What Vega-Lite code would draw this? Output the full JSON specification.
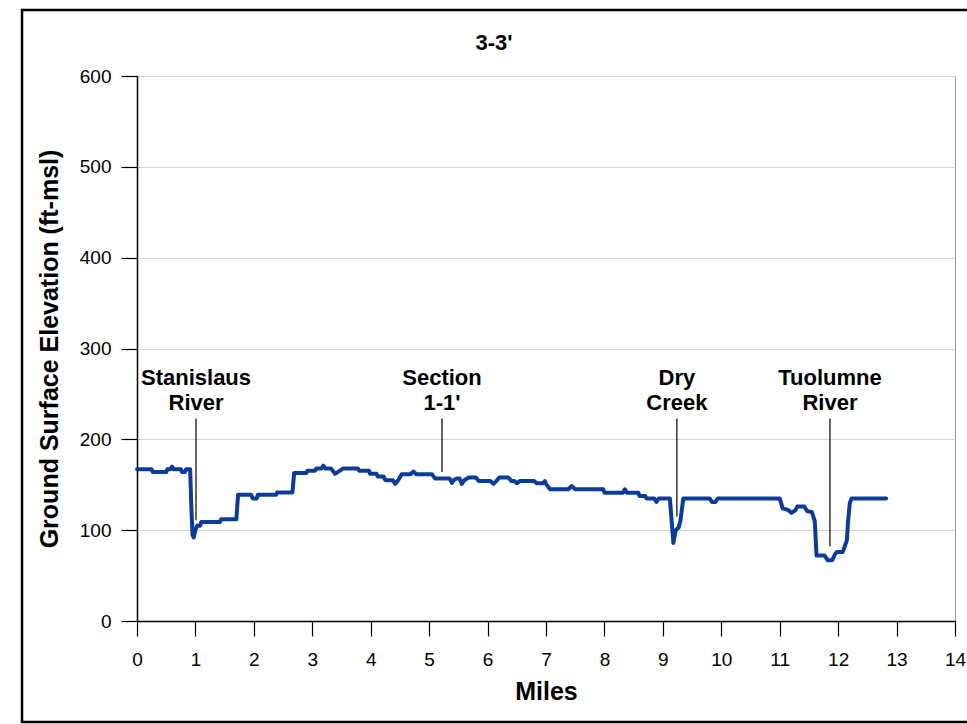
{
  "$schema": "https://vega.github.io/schema/vega-lite/v6.json",
  "width": 818,
  "height": 545,
  "autosize": {"type": "none"},
  "padding": {"left": 137, "top": 76, "right": 12, "bottom": 103},
  "background": "white",
  "title": {
    "text": "3-3'",
    "anchor": "middle",
    "frame": "group",
    "dx": -52,
    "dy": 46,
    "offset": 0,
    "fontSize": 22,
    "font": "Liberation Sans",
    "fontWeight": "bold",
    "color": "black"
  },
  "config": {
    "font": "Liberation Sans",
    "view": {"stroke": "#9a9a9a", "strokeWidth": 1}
  },
  "datasets": {
    "profile": [
      {"mile": 0, "elev": 167}, {"mile": 0.25, "elev": 167}, {"mile": 0.27, "elev": 164}, {"mile": 0.5, "elev": 164},
      {"mile": 0.52, "elev": 167}, {"mile": 0.57, "elev": 167}, {"mile": 0.6, "elev": 170}, {"mile": 0.63, "elev": 167},
      {"mile": 0.75, "elev": 167}, {"mile": 0.77, "elev": 164}, {"mile": 0.82, "elev": 164}, {"mile": 0.84, "elev": 167},
      {"mile": 0.91, "elev": 167}, {"mile": 0.93, "elev": 125}, {"mile": 0.95, "elev": 95}, {"mile": 0.97, "elev": 92},
      {"mile": 1.0, "elev": 100}, {"mile": 1.03, "elev": 105}, {"mile": 1.08, "elev": 105}, {"mile": 1.1, "elev": 109},
      {"mile": 1.42, "elev": 109}, {"mile": 1.44, "elev": 112}, {"mile": 1.7, "elev": 112}, {"mile": 1.73, "elev": 139},
      {"mile": 1.95, "elev": 139}, {"mile": 1.98, "elev": 135}, {"mile": 2.05, "elev": 135}, {"mile": 2.07, "elev": 139},
      {"mile": 2.38, "elev": 139}, {"mile": 2.4, "elev": 141.5}, {"mile": 2.66, "elev": 141.5}, {"mile": 2.69, "elev": 163},
      {"mile": 2.9, "elev": 163}, {"mile": 2.92, "elev": 165.5}, {"mile": 3.05, "elev": 165.5}, {"mile": 3.07, "elev": 168},
      {"mile": 3.16, "elev": 168}, {"mile": 3.19, "elev": 171}, {"mile": 3.22, "elev": 168}, {"mile": 3.32, "elev": 168},
      {"mile": 3.39, "elev": 162}, {"mile": 3.46, "elev": 165}, {"mile": 3.53, "elev": 168}, {"mile": 3.78, "elev": 168},
      {"mile": 3.8, "elev": 165.5}, {"mile": 3.97, "elev": 165.5}, {"mile": 3.99, "elev": 162}, {"mile": 4.1, "elev": 162},
      {"mile": 4.12, "elev": 159}, {"mile": 4.22, "elev": 159}, {"mile": 4.25, "elev": 155}, {"mile": 4.38, "elev": 155},
      {"mile": 4.42, "elev": 151}, {"mile": 4.47, "elev": 155}, {"mile": 4.53, "elev": 161.5}, {"mile": 4.68, "elev": 161.5},
      {"mile": 4.73, "elev": 164.5}, {"mile": 4.78, "elev": 161.5}, {"mile": 5.05, "elev": 161.5}, {"mile": 5.1, "elev": 157},
      {"mile": 5.35, "elev": 157}, {"mile": 5.39, "elev": 152}, {"mile": 5.42, "elev": 155}, {"mile": 5.47, "elev": 157},
      {"mile": 5.52, "elev": 157}, {"mile": 5.56, "elev": 151}, {"mile": 5.6, "elev": 155}, {"mile": 5.68, "elev": 158},
      {"mile": 5.8, "elev": 158}, {"mile": 5.85, "elev": 154}, {"mile": 6.05, "elev": 154}, {"mile": 6.1, "elev": 151},
      {"mile": 6.15, "elev": 154}, {"mile": 6.2, "elev": 158}, {"mile": 6.35, "elev": 158}, {"mile": 6.41, "elev": 154},
      {"mile": 6.46, "elev": 154}, {"mile": 6.5, "elev": 151.6}, {"mile": 6.55, "elev": 154}, {"mile": 6.8, "elev": 154},
      {"mile": 6.84, "elev": 151.6}, {"mile": 6.95, "elev": 151.6}, {"mile": 6.98, "elev": 154}, {"mile": 7.0, "elev": 151},
      {"mile": 7.07, "elev": 145}, {"mile": 7.38, "elev": 145}, {"mile": 7.44, "elev": 148.6}, {"mile": 7.5, "elev": 145},
      {"mile": 7.98, "elev": 145}, {"mile": 8.0, "elev": 141.3}, {"mile": 8.32, "elev": 141.3}, {"mile": 8.35, "elev": 145},
      {"mile": 8.38, "elev": 141.3}, {"mile": 8.58, "elev": 141.3}, {"mile": 8.6, "elev": 137.6}, {"mile": 8.7, "elev": 137.6},
      {"mile": 8.72, "elev": 135}, {"mile": 8.85, "elev": 135}, {"mile": 8.89, "elev": 131}, {"mile": 8.93, "elev": 135},
      {"mile": 9.12, "elev": 135}, {"mile": 9.15, "elev": 110}, {"mile": 9.18, "elev": 86}, {"mile": 9.22, "elev": 100},
      {"mile": 9.27, "elev": 103}, {"mile": 9.3, "elev": 110}, {"mile": 9.35, "elev": 135}, {"mile": 9.8, "elev": 135},
      {"mile": 9.84, "elev": 131}, {"mile": 9.9, "elev": 131}, {"mile": 9.94, "elev": 135}, {"mile": 11.0, "elev": 135},
      {"mile": 11.05, "elev": 124}, {"mile": 11.15, "elev": 122}, {"mile": 11.2, "elev": 119}, {"mile": 11.27, "elev": 122},
      {"mile": 11.3, "elev": 126}, {"mile": 11.42, "elev": 126}, {"mile": 11.47, "elev": 121}, {"mile": 11.55, "elev": 120},
      {"mile": 11.6, "elev": 110}, {"mile": 11.63, "elev": 72}, {"mile": 11.77, "elev": 72}, {"mile": 11.82, "elev": 67},
      {"mile": 11.9, "elev": 67}, {"mile": 11.95, "elev": 74}, {"mile": 11.98, "elev": 76}, {"mile": 12.08, "elev": 76},
      {"mile": 12.15, "elev": 89}, {"mile": 12.17, "elev": 110}, {"mile": 12.2, "elev": 130}, {"mile": 12.23, "elev": 135},
      {"mile": 12.82, "elev": 135}
    ],
    "labels": [
      {"label": "Stanislaus\nRiver", "mile": 1.01, "top": 223, "bottom": 111, "texty": 267},
      {"label": "Section\n1-1'", "mile": 5.22, "top": 223, "bottom": 164, "texty": 267},
      {"label": "Dry\nCreek", "mile": 9.24, "top": 223, "bottom": 115, "texty": 267},
      {"label": "Tuolumne\nRiver", "mile": 11.86, "top": 223, "bottom": 82, "texty": 267}
    ]
  },
  "layer": [
    {
      "data": {"values": [{}]},
      "mark": {"type": "rect", "fill": "transparent", "stroke": "black", "strokeWidth": 2.5, "clip": false},
      "encoding": {
        "x": {"datum": -1.968, "type": "quantitative", "scale": {"domain": [0, 14], "nice": false, "zero": false}},
        "x2": {"datum": 14.6},
        "y": {"datum": 672.7, "type": "quantitative", "scale": {"domain": [0, 600], "nice": false}},
        "y2": {"datum": -111.2}
      }
    },
    {
      "data": {"name": "profile"},
      "mark": {"type": "line", "color": "#0b3c9a", "strokeWidth": 4, "strokeJoin": "round", "strokeCap": "round"},
      "encoding": {
        "x": {
          "field": "mile", "type": "quantitative",
          "scale": {"domain": [0, 14], "nice": false, "zero": false},
          "axis": {
            "title": "Miles", "values": [0,1,2,3,4,5,6,7,8,9,10,11,12,13,14], "format": "d",
            "grid": false, "domainColor": "black", "domainWidth": 1.5,
            "tickColor": "black", "tickSize": 15, "tickWidth": 1.2,
            "labelFontSize": 19, "labelColor": "black", "labelPadding": 14, "labelFlush": false,
            "titleFontSize": 25, "titleFontWeight": "bold", "titleColor": "black", "titlePadding": 10
          }
        },
        "y": {
          "field": "elev", "type": "quantitative",
          "scale": {"domain": [0, 600], "nice": false},
          "axis": {
            "title": "Ground Surface Elevation (ft-msl)", "values": [0,100,200,300,400,500,600], "format": "d",
            "grid": true, "gridColor": "#d4d4d4", "gridWidth": 1.2,
            "domainColor": "black", "domainWidth": 1.5,
            "tickColor": "black", "tickSize": 16, "tickWidth": 1.2,
            "labelFontSize": 19, "labelColor": "black", "labelPadding": 10,
            "titleFontSize": 25, "titleFontWeight": "bold", "titleColor": "black", "titlePadding": 17
          }
        }
      }
    },
    {
      "data": {"name": "labels"},
      "mark": {"type": "rule", "color": "black", "strokeWidth": 1.2},
      "encoding": {
        "x": {"field": "mile", "type": "quantitative"},
        "y": {"field": "top", "type": "quantitative"},
        "y2": {"field": "bottom"}
      }
    },
    {
      "data": {"name": "labels"},
      "mark": {"type": "text", "lineBreak": "\n", "fontSize": 22, "fontWeight": "bold", "lineHeight": 25, "align": "center", "baseline": "middle", "color": "black"},
      "encoding": {
        "x": {"field": "mile", "type": "quantitative"},
        "y": {"field": "texty", "type": "quantitative"},
        "text": {"field": "label"}
      }
    }
  ]
}
